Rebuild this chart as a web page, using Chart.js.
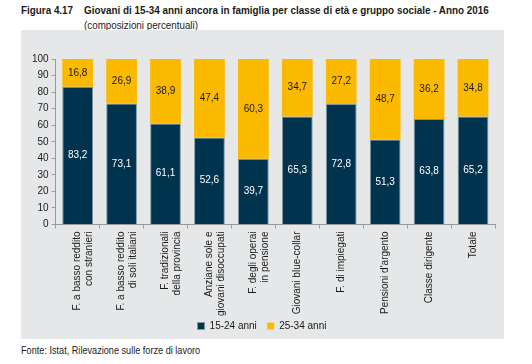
<!DOCTYPE html>
<html>
<head>
<meta charset="utf-8">
<script src="https://cdn.jsdelivr.net/npm/chart.js@4/dist/chart.umd.min.js"></script>
<style>
  body { margin: 0; background: #fff; font-family: "Liberation Sans", Arial, sans-serif; color: #1a1a1a; }
  .txt { position: absolute; white-space: nowrap; transform-origin: 0 0; }
  #fig { left: 21px; top: 4px; font-size: 11px; font-weight: bold; }
  #title { left: 84px; top: 4px; font-size: 11px; font-weight: bold; }
  #sub { left: 84px; top: 19px; font-size: 10.5px; }
  #panel { position: absolute; left: 21px; top: 30px; width: 483px; height: 309px; background: #e6e7e8; overflow: hidden; }
  #note { left: 21px; top: 345px; font-size: 10px; }
</style>
</head>
<body>
<div class="txt" id="fig" data-w="52">Figura 4.17</div>
<div class="txt" id="title" data-w="405">Giovani di 15-34 anni ancora in famiglia per classe di età e gruppo sociale - Anno 2016</div>
<div class="txt" id="sub" data-w="114">(composizioni percentuali)</div>
<div id="panel"><canvas id="progressChart" width="483" height="311"></canvas></div>
<div class="txt" id="note" data-w="179">Fonte: Istat, Rilevazione sulle forze di lavoro</div>
<script>
var categories = [
    ['F. a basso reddito', 'con stranieri'],
    ['F. a basso reddito', 'di soli italiani'],
    ['F. tradizionali', 'della provincia'],
    ['Anziane sole e', 'giovani disoccupati'],
    ['F. degli operai', 'in pensione'],
    'Giovani blue-collar',
    'F. di impiegati',
    "Pensioni d'argento",
    'Classe dirigente',
    'Totale'
];
var giovani1524 = [83.2, 73.1, 61.1, 52.6, 39.7, 65.3, 72.8, 51.3, 63.8, 65.2];
var giovani2534 = [16.8, 26.9, 38.9, 47.4, 60.3, 34.7, 27.2, 48.7, 36.2, 34.8];
var yTicks = [0, 10, 20, 30, 40, 50, 60, 70, 80, 90, 100];

// testi stretti come nel pdf
document.querySelectorAll('.txt').forEach(function(el) {
    var w = +el.getAttribute('data-w');
    el.style.transform = 'scaleX(' + (w / el.offsetWidth) + ')';
});

// etichette dentro le barre
var valueLabels = {
    id: 'valueLabels',
    afterDatasetsDraw: function(chart) {
        var ctx = chart.ctx;
        ctx.save();
        ctx.font = '10px "Liberation Sans", Arial, sans-serif';
        ctx.textAlign = 'center';
        ctx.textBaseline = 'middle';
        chart.data.datasets.forEach(function(ds, i) {
            var meta = chart.getDatasetMeta(i);
            meta.data.forEach(function(bar, j) {
                ctx.fillStyle = i === 0 ? '#ffffff' : '#1a1a1a';
                var txt = ds.data[j].toFixed(1).replace('.', ',');
                ctx.fillText(txt, bar.x, (bar.y + bar.base) / 2);
            });
        });
        ctx.restore();
    }
};

var canvas = document.getElementById('progressChart');
var ctx = canvas.getContext('2d');
var chart = new Chart(ctx, {
    type: 'bar',
    data: {
        labels: categories,
        datasets: [{
            label: '15-24 anni',
            data: giovani1524,
            backgroundColor: '#00334e',
            borderColor: '#7f95a3',
            borderWidth: 1,
            borderSkipped: 'bottom'
        }, {
            label: '25-34 anni',
            data: giovani2534,
            backgroundColor: '#fbba00',
            borderWidth: 0
        }]
    },
    options: {
        responsive: false,
        animation: false,
        devicePixelRatio: 1,
        categoryPercentage: 0.7,
        barPercentage: 1,
        layout: { padding: { left: 8, right: 9, top: 29, bottom: 0 } },
        scales: {
            x: {
                stacked: true,
                grid: { display: true, drawOnChartArea: false, offset: true, tickLength: 4, color: '#9a9a9a' },
                border: { color: '#9a9a9a' },
                ticks: { maxRotation: 90, minRotation: 90, color: '#1a1a1a', font: { size: 10, family: '"Liberation Sans", Arial' }, padding: 3 }
            },
            y: {
                stacked: true,
                min: 0,
                max: 100,
                afterBuildTicks: function(axis) {
                    axis.ticks = yTicks.map(function(v) { return { value: v }; });
                },
                grid: { display: true, drawOnChartArea: false, tickLength: 4, color: '#9a9a9a' },
                border: { color: '#9a9a9a' },
                ticks: { color: '#1a1a1a', font: { size: 10, family: '"Liberation Sans", Arial' }, padding: 3 }
            }
        },
        plugins: {
            legend: {
                position: 'bottom',
                labels: {
                    boxWidth: 7,
                    boxHeight: 7,
                    color: '#1a1a1a',
                    padding: 2,
                    font: { size: 10, family: '"Liberation Sans", Arial' },
                    // legenda bassa: lo spazio tra le voci lo fanno gli spazi
                    generateLabels: function(chart) {
                        var items = Chart.defaults.plugins.legend.labels.generateLabels(chart);
                        items[0].text += '   ';
                        return items;
                    }
                }
            },
            tooltip: { enabled: false }
        }
    },
    plugins: [valueLabels]
});
</script>
</body>
</html>
